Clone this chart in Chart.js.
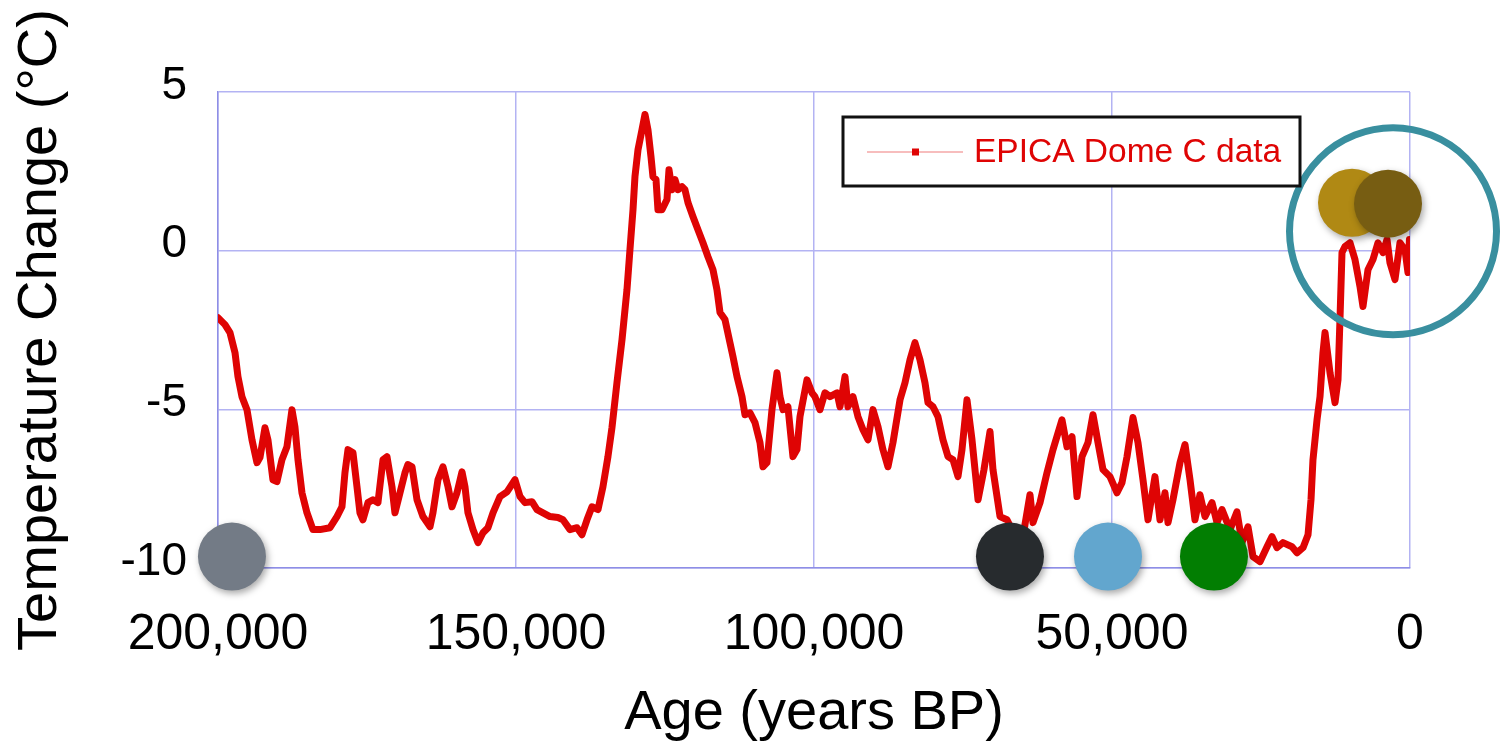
<!DOCTYPE html>
<html>
<head>
<meta charset="utf-8">
<title>EPICA Dome C temperature change</title>
<script src="https://cdn.jsdelivr.net/npm/chart.js@4.4.1/dist/chart.umd.min.js"></script>
<style>
  html, body { margin: 0; padding: 0; background: #ffffff; }
  #wrap { width: 1502px; height: 744px; }
</style>
</head>
<body>
<div id="wrap"><canvas id="chart" width="1502" height="744"></canvas></div>
<script>
// EPICA Dome C temperature anomaly (°C) against age (years before present)
const ages = [
  200000,198830,197990,197150,196650,195980,195140,194300,193460,192960,
  192120,191620,190780,190110,189270,188430,187590,187090,186580,185910,
  185070,184070,182890,181210,180040,179200,178700,178190,177350,176680,
  176180,175680,174840,174000,173160,172320,171650,170810,170310,169470,
  168630,168130,167450,166610,165610,164430,163930,163090,162250,161410,
  160740,159900,159060,158560,158060,157220,156380,155540,154700,153860,
  152690,151510,150170,149330,148490,147320,146480,145470,144300,142960,
  142120,140940,139770,138930,138090,137250,136240,135410,134570,133900,
  133060,132210,131380,130880,130370,130040,129530,128860,128360,127860,
  127350,127020,126510,126180,125510,124670,124330,123830,123330,122820,
  122150,121650,121140,120300,119470,118630,117790,116950,116280,115770,
  114940,114100,113590,112920,112080,111580,110740,109900,109060,108560,
  107890,107050,106210,105710,105200,104370,103530,102860,102350,101180,
  100340,99840,99000,98160,97320,96140,95640,94800,94300,93460,
  92620,91780,90940,90100,89260,88430,87590,86750,85570,84730,
  83890,83060,82220,81380,80870,80030,79200,78360,77520,76680,
  75840,75170,74330,73490,72480,71480,70470,69970,68790,67620,
  66610,64940,63760,63260,62080,60910,59900,58390,57550,56710,
  55870,55030,54030,53190,52350,51510,50340,49160,48320,47480,
  46480,45640,44800,43960,42790,41950,41110,40600,39770,38590,
  37750,36910,36080,35240,34400,33220,32380,31540,30200,29030,
  28190,27180,26340,25170,23990,23150,22320,21310,19800,18960,
  17950,17110,16610,16280,15600,15100,14600,14260,13420,12580,
  12080,11750,11410,10910,10070,9230,8390,7890,7050,6210,
  5370,4530,3860,3360,2520,1680,840,340,100
];
const temps = [
  -2.11,-2.33,-2.58,-3.21,-3.97,-4.60,-5.01,-5.96,-6.68,-6.52,
  -5.58,-5.96,-7.22,-7.28,-6.59,-6.18,-5.01,-5.55,-6.59,-7.63,
  -8.26,-8.79,-8.79,-8.73,-8.38,-8.07,-7.00,-6.27,-6.37,-7.44,
  -8.26,-8.48,-7.94,-7.85,-7.94,-6.59,-6.49,-7.44,-8.26,-7.63,
  -7.00,-6.74,-6.81,-7.85,-8.38,-8.70,-8.26,-7.22,-6.81,-7.44,
  -8.07,-7.63,-6.97,-7.44,-8.26,-8.79,-9.20,-8.89,-8.73,-8.26,
  -7.75,-7.60,-7.22,-7.75,-7.94,-7.91,-8.16,-8.26,-8.38,-8.41,
  -8.48,-8.79,-8.73,-8.95,-8.48,-8.07,-8.16,-7.44,-6.49,-5.58,
  -4.16,-2.80,-1.23,0.03,1.29,2.33,3.18,3.81,4.29,3.81,
  2.96,2.33,2.24,1.29,1.29,1.61,2.55,1.92,2.24,1.92,
  2.02,1.92,1.51,1.07,0.66,0.25,-0.19,-0.60,-1.23,-1.95,
  -2.17,-2.90,-3.34,-3.97,-4.60,-5.17,-5.11,-5.42,-6.05,-6.81,
  -6.68,-5.01,-3.85,-4.60,-5.01,-4.92,-6.49,-6.27,-5.23,-4.07,
  -4.48,-4.60,-5.01,-4.48,-4.60,-4.48,-4.92,-3.97,-4.92,-4.60,
  -5.23,-5.64,-5.96,-5.01,-5.55,-6.27,-6.81,-6.05,-4.70,-4.16,
  -3.44,-2.90,-3.44,-4.16,-4.79,-4.92,-5.23,-5.96,-6.49,-6.59,
  -7.12,-6.27,-4.70,-5.96,-7.85,-6.90,-5.70,-6.90,-8.38,-8.48,
  -8.86,-9.01,-7.69,-8.57,-7.94,-7.00,-6.27,-5.33,-6.18,-5.86,
  -7.75,-6.49,-6.05,-5.17,-6.05,-6.90,-7.12,-7.63,-7.31,-6.49,
  -5.26,-6.05,-7.22,-8.48,-7.12,-8.48,-7.63,-8.57,-7.85,-6.68,
  -6.11,-7.22,-8.48,-7.69,-8.38,-7.94,-8.57,-8.16,-8.79,-8.23,
  -9.20,-8.70,-9.64,-9.80,-9.33,-9.01,-9.36,-9.20,-9.33,-9.52,
  -9.36,-8.95,-7.85,-6.59,-5.33,-4.60,-3.21,-2.58,-3.85,-4.79,
  -4.07,-2.17,-0.06,0.13,0.25,-0.28,-1.13,-1.76,-0.60,-0.28,
  0.25,-0.06,0.35,-0.38,-0.91,0.25,0.03,-0.69,0.35
];

// Axis ticks
const xTicks = [200000, 150000, 100000, 50000, 0];
const yTicks = [5, 0, -5, -10];

// Highlight discs placed along the record
const markerAges  = [197660, 67120, 50670, 32890, 9730, 3690];
const markerTemps = [-9.64, -9.64, -9.64, -9.64, 1.51, 1.48];
const markerColors = ['#737b86', '#272b2e', '#62a6ce', '#027e02', '#b08914', '#775d12'];

// Ring around the Holocene
const ringAges  = [2850];
const ringTemps = [0.61];

const seriesLabel = 'EPICA Dome C data';
const lineRed = '#df0404';
const FONT = "'Liberation Sans', Arial, Helvetica, sans-serif";

const recordPoints = ages.map((a, i) => ({ x: a, y: temps[i] }));
const markerPoints = markerAges.map((a, i) => ({ x: a, y: markerTemps[i] }));
const ringPoints = ringAges.map((a, i) => ({ x: a, y: ringTemps[i] }));

// Soft drop shadow under the discs
const discShadow = {
  id: 'discShadow',
  beforeDatasetDraw(chart, args) {
    if (args.index === 1) {
      const ctx = chart.ctx;
      ctx.save();
      ctx.shadowColor = 'rgba(0,0,0,0.35)';
      ctx.shadowBlur = 7;
      ctx.shadowOffsetX = 2;
      ctx.shadowOffsetY = 3;
    }
  },
  afterDatasetDraw(chart, args) {
    if (args.index === 1) chart.ctx.restore();
  }
};

// Boxed legend inside the plot, upper right
const boxedLegend = {
  id: 'boxedLegend',
  afterDatasetsDraw(chart) {
    const ctx = chart.ctx;
    const ca = chart.chartArea;
    const w = 457, h = 69;
    const left = ca.right - 110 - w;
    const top = ca.top + 25;
    const midY = top + 35;
    ctx.save();
    ctx.fillStyle = '#ffffff';
    ctx.fillRect(left, top, w, h);
    ctx.strokeStyle = '#111111';
    ctx.lineWidth = 3;
    ctx.strokeRect(left, top, w, h);
    // sample line with marker
    ctx.strokeStyle = 'rgba(230, 60, 60, 0.45)';
    ctx.lineWidth = 1.5;
    ctx.beginPath();
    ctx.moveTo(left + 24, midY);
    ctx.lineTo(left + 120, midY);
    ctx.stroke();
    ctx.fillStyle = lineRed;
    ctx.fillRect(left + 69, midY - 3.5, 7, 7);
    // label
    ctx.font = '33.5px ' + FONT;
    ctx.textAlign = 'left';
    ctx.textBaseline = 'middle';
    ctx.fillStyle = lineRed;
    ctx.fillText(chart.data.datasets[0].label, left + 131, midY + 1);
    ctx.restore();
  }
};

new Chart(document.getElementById('chart'), {
  type: 'line',
  data: {
    datasets: [
      {
        label: seriesLabel,
        data: recordPoints,
        borderColor: lineRed,
        backgroundColor: lineRed,
        borderWidth: 7,
        borderJoinStyle: 'round',
        borderCapStyle: 'round',
        pointRadius: 0,
        tension: 0,
        order: 3
      },
      {
        type: 'scatter',
        label: 'markers',
        data: markerPoints,
        pointRadius: 34,
        pointBackgroundColor: markerColors,
        pointBorderWidth: 0,
        pointBorderColor: 'rgba(0,0,0,0)',
        clip: false,
        order: 2
      },
      {
        type: 'scatter',
        label: 'ring',
        data: ringPoints,
        pointRadius: 103.5,
        pointBackgroundColor: 'rgba(0,0,0,0)',
        pointBorderColor: '#398f9f',
        pointBorderWidth: 7,
        clip: false,
        order: 1
      }
    ]
  },
  options: {
    responsive: false,
    animation: false,
    events: [],
    layout: { autoPadding: false, padding: { left: 0, right: 92, top: 92, bottom: 0 } },
    plugins: {
      legend: { display: false },
      tooltip: { enabled: false }
    },
    scales: {
      x: {
        type: 'linear',
        reverse: true,
        min: 0,
        max: 200000,
        afterBuildTicks(scale) { scale.ticks = xTicks.map(v => ({ value: v })); },
        afterFit(scale) { scale.height = 176; },
        grid: { color: '#b3b3f3', lineWidth: 1.5, drawTicks: false },
        border: { color: '#8e8ee6', width: 1.5 },
        ticks: {
          padding: 37,
          color: '#000000',
          font: { family: FONT, size: 50 },
          maxRotation: 0,
          autoSkip: false,
          callback: (v) => Number(v).toLocaleString('en-US')
        },
        title: {
          display: true,
          text: 'Age (years BP)',
          color: '#000000',
          font: { family: FONT, size: 56, lineHeight: 1 },
          padding: { top: 0, bottom: 2 }
        }
      },
      y: {
        type: 'linear',
        min: -10,
        max: 5,
        afterBuildTicks(scale) { scale.ticks = yTicks.map(v => ({ value: v })); },
        afterFit(scale) { scale.width = 218; },
        grid: { color: '#b3b3f3', lineWidth: 1.5, drawTicks: false },
        border: { color: '#8e8ee6', width: 1.5 },
        ticks: {
          padding: 31,
          labelOffset: -6,
          color: '#000000',
          font: { family: FONT, size: 46 },
          autoSkip: false
        },
        title: {
          display: true,
          text: 'Temperature Change (°C)',
          color: '#000000',
          font: { family: FONT, size: 56 },
          padding: { top: 7, bottom: 0 }
        }
      }
    }
  },
  plugins: [discShadow, boxedLegend]
});
</script>
</body>
</html>
